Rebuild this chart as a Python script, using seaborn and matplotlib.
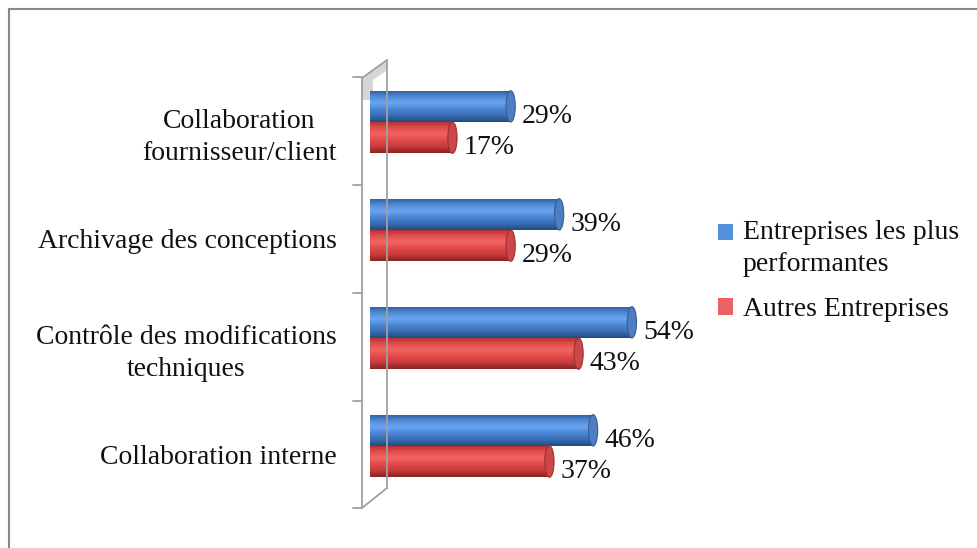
import numpy as np
import pandas as pd
import matplotlib
matplotlib.use("Agg")
import matplotlib.pyplot as plt
import seaborn as sns
from matplotlib.patches import Ellipse, Patch, Polygon, Rectangle
from matplotlib.lines import Line2D
from matplotlib.colors import LinearSegmentedColormap
from matplotlib.legend_handler import HandlerPatch

# ---- data ----
categories = ["Collaboration\nfournisseur/client",
              "Archivage des conceptions",
              "Contrôle des modifications\ntechniques",
              "Collaboration interne"]
series = ["Entreprises les plus performantes", "Autres Entreprises"]
legend_labels = ["Entreprises les plus\nperformantes", "Autres Entreprises"]
best = [29, 39, 54, 46]
others = [17, 29, 43, 37]

df = pd.DataFrame({
    "cat": categories * 2,
    "series": [series[0]] * len(categories) + [series[1]] * len(categories),
    "val": best + others,
})

sns.set_theme(style="white")
plt.rcParams["font.family"] = ["Liberation Serif", "DejaVu Serif"]
FS = 20

W, H = 977, 548
fig = plt.figure(figsize=(W / 100, H / 100), dpi=100)
fig.patch.set_facecolor("white")

def fx(x):
    return x / W

def fy(y):
    return 1 - y / H

ppu = 4.85      # pixels per percent
x_origin = 370
xmax = 60
ax = fig.add_axes([fx(x_origin), fy(510), xmax * ppu / W, (510 - 77) / H])

blue = "#4a86d4"
red = "#e24a4a"
sns.barplot(data=df, y="cat", x="val", hue="series", orient="h",
            palette=[blue, red], width=0.58, ax=ax, legend=False,
            saturation=1, order=categories, hue_order=series)

cmaps = {
    0: LinearSegmentedColormap.from_list("b", ["#2e5a98", "#4f8ad6", "#6aa6f2", "#4a86d4", "#3a6db3", "#234a80"]),
    1: LinearSegmentedColormap.from_list("r", ["#a83030", "#e04c4a", "#f26662", "#e24a4a", "#c63c3c", "#8a2222"]),
}
cap_col = {0: "#4f7ec0", 1: "#cc4848"}
cap_edge = {0: "#335d99", 1: "#9c3030"}

grad = np.linspace(0, 1, 128).reshape(-1, 1)
for si, cont in enumerate(ax.containers):
    for patch, v in zip(cont.patches, cont.datavalues):
        bb = patch.get_bbox()
        y0, y1 = min(bb.y0, bb.y1), max(bb.y0, bb.y1)
        patch.set_edgecolor("none")
        im = ax.imshow(grad, extent=[bb.x0, bb.x1, y1, y0], aspect="auto",
                       cmap=cmaps[si], origin="upper", zorder=2,
                       interpolation="bilinear")
        im.set_clip_path(patch)
        cap = Ellipse((bb.x1, (y0 + y1) / 2), width=1.9, height=(y1 - y0),
                      facecolor=cap_col[si], edgecolor=cap_edge[si],
                      linewidth=0.8, zorder=3)
        ax.add_patch(cap)
        ax.annotate(f"{v:.0f}%", xy=(bb.x1, (y0 + y1) / 2),
                    xytext=(8, -7), textcoords="offset points",
                    ha="left", va="center", fontsize=FS, color="#111111",
                    zorder=4)

ax.set_xlim(0, xmax)
ax.set_ylim(3.593, -0.417)
ax.set_xlabel("")
ax.set_ylabel("")
ax.set_xticks([])
# category labels sit centred between the wall ticks (slightly below the bars)
ax.set_yticks(np.arange(len(categories)) + 0.083, categories)
for s in ax.spines.values():
    s.set_visible(False)
ax.tick_params(axis="y", length=0, pad=24, labelsize=FS, labelcolor="#111111")
for lab in ax.get_yticklabels():
    lab.set_multialignment("center")
    lab.set_linespacing(1.35)
ax.patch.set_alpha(0)

# ---- 3D wall decoration ----
gcol = "#a0a0a0"
shade = Polygon([(fx(362), fy(78)), (fx(387), fy(60)), (fx(387), fy(70)),
                 (fx(373), fy(80)), (fx(373), fy(100)), (fx(362), fy(100))],
                closed=True, transform=fig.transFigure, facecolor="#d6d6d6",
                edgecolor="none", zorder=0)
fig.add_artist(shade)
for (xa, ya, xb, yb) in [(362, 78, 362, 508), (387, 60, 387, 488),
                         (362, 508, 387, 488), (362, 78, 387, 60)]:
    fig.add_artist(Line2D([fx(xa), fx(xb)], [fy(ya), fy(yb)],
                          transform=fig.transFigure, color=gcol, lw=1.3,
                          zorder=1))
for ty in [77, 185, 293, 401, 508]:
    fig.add_artist(Line2D([fx(353), fx(362)], [fy(ty), fy(ty)],
                          transform=fig.transFigure, color=gcol, lw=1.3))

# ---- outer border (cropped) ----
fig.add_artist(Line2D([fx(9), fx(9)], [fy(9), fy(548)], transform=fig.transFigure,
                      color="#888888", lw=1.5))
fig.add_artist(Line2D([fx(9), fx(977)], [fy(9), fy(9)], transform=fig.transFigure,
                      color="#888888", lw=1.5))

# ---- legend ----
def top_square(legend, orig_handle, xdescent, ydescent, width, height, fontsize):
    return Rectangle((-xdescent, -ydescent + 11.5), width, height)

handles = [Patch(facecolor="#5590dc", edgecolor="none"),
           Patch(facecolor="#ec6262", edgecolor="none")]
leg = fig.legend(handles, legend_labels, loc="upper left",
                 bbox_to_anchor=(fx(693), fy(195)), frameon=False, fontsize=FS,
                 handlelength=0.55, handleheight=0.55, handletextpad=0.35,
                 labelspacing=0.75, labelcolor="#111111",
                 handler_map={handles[0]: HandlerPatch(patch_func=top_square)})
for t in leg.get_texts():
    t.set_linespacing(1.35)

fig.savefig("out.png", dpi=100)
